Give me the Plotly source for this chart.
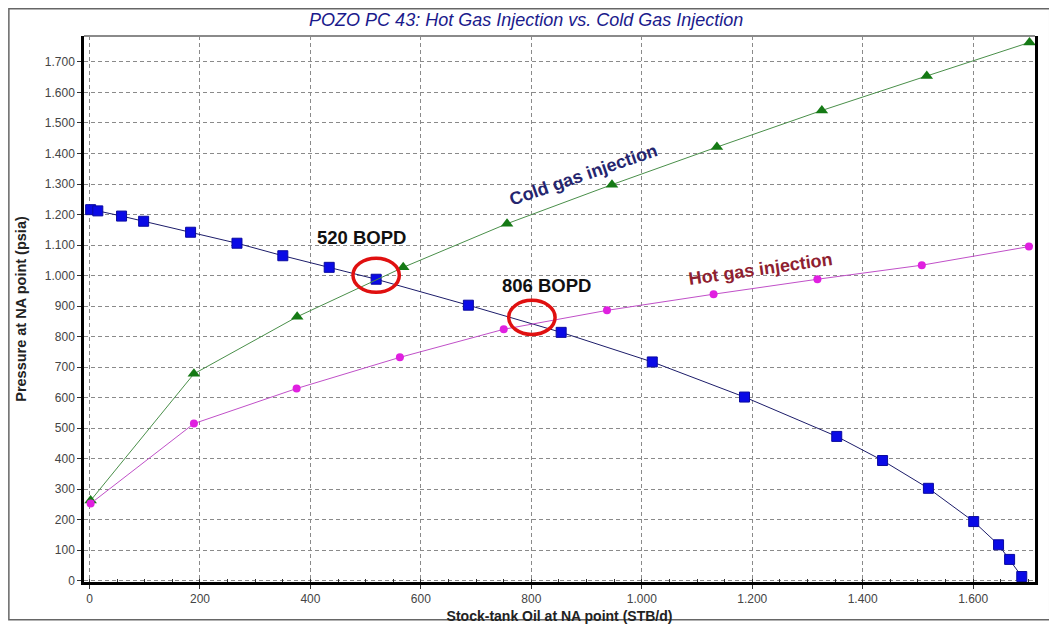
import plotly.graph_objects as go

# Production curve (blue squares)
prod_x = [2, 15, 58, 98, 183, 267, 350, 434, 519, 686, 854, 1019, 1186, 1353, 1436, 1519, 1601, 1646, 1666, 1688]
prod_y = [1216, 1212, 1195, 1178, 1142, 1106, 1065, 1027, 988, 903, 814, 717, 602, 473, 394, 303, 194, 118, 70, 14]

# Cold gas injection (green triangles)
cold_x = [2, 189, 376, 568, 756, 946, 1136, 1326, 1516, 1702]
cold_y = [263, 678, 865, 1027, 1170, 1298, 1421, 1541, 1654, 1764]

# Hot gas injection (magenta circles)
hot_x = [2, 189, 375, 562, 750, 937, 1130, 1318, 1507, 1701]
hot_y = [253, 515, 630, 732, 824, 886, 939, 988, 1034, 1095]

# Operating points (circled) and their labels
op_x = [519, 801]
op_y = [1001, 863]
op_labels = ["520 BOPD", "806 BOPD"]
op_label_x = [493, 827]
op_label_y = [1126, 968]

x_ticks = [0, 200, 400, 600, 800, 1000, 1200, 1400, 1600]
y_ticks = list(range(0, 1800, 100))

TICK_FONT = dict(family="Liberation Sans, Arial", size=12, color="#444444")
X_TITLE_FONT = dict(family="Liberation Sans Narrow, Arial Narrow, Liberation Sans, Arial", size=14, color="#222222")
Y_TITLE_FONT = dict(family="Liberation Sans, Arial", size=14.5, color="#222222")

fig = go.Figure()

fig.add_trace(go.Scatter(
    x=prod_x, y=prod_y, mode="lines+markers", name="Production",
    line=dict(color="#1c1c6a", width=1),
    marker=dict(symbol="square", size=10, color="#0a0ae6", line=dict(color="#0a0aa0", width=1)),
))
fig.add_trace(go.Scatter(
    x=cold_x, y=cold_y, mode="lines+markers", name="Cold gas injection",
    line=dict(color="#4a8f4a", width=1),
    marker=dict(symbol="triangle-up", size=11, color="#157a15"),
))
fig.add_trace(go.Scatter(
    x=hot_x, y=hot_y, mode="lines+markers", name="Hot gas injection",
    line=dict(color="#c050c8", width=1),
    marker=dict(symbol="circle", size=8, color="#e020e0"),
))

# red circles around operating points
rx, ry = 42, 56
for cx, cy in zip(op_x, op_y):
    fig.add_shape(type="circle", xref="x", yref="y",
                  x0=cx - rx, x1=cx + rx, y0=cy - ry, y1=cy + ry,
                  line=dict(color="#e01010", width=3.5))

for lx, ly, txt in zip(op_label_x, op_label_y, op_labels):
    fig.add_annotation(x=lx, y=ly, text="<b>" + txt + "</b>", showarrow=False,
                       font=dict(family="Liberation Sans, Arial", size=18.5, color="#111111"))

fig.add_annotation(x=894, y=1329, text="<b>Cold gas injection</b>", showarrow=False, textangle=-19,
                   font=dict(family="Liberation Sans, Arial", size=18, color="#25256e"))
fig.add_annotation(x=1215, y=1021, text="<b>Hot gas injection</b>", showarrow=False, textangle=-8,
                   font=dict(family="Liberation Sans, Arial", size=18, color="#8e2030"))

# top edge of plot area (gray) and outer frame
fig.add_shape(type="line", xref="x domain", yref="y domain", x0=0, x1=1, y0=1, y1=1,
              line=dict(color="#8a8a8a", width=2))
fig.add_shape(type="rect", xref="paper", yref="paper", x0=-0.079, x1=1.0155, y0=-0.069, y1=1.05,
              line=dict(color="#666666", width=1.5))

fig.update_layout(
    width=1049, height=616,
    margin=dict(l=76, r=22, t=28, b=42),
    paper_bgcolor="white", plot_bgcolor="white",
    showlegend=False,
    separators=",.",
    title=dict(text="<i>POZO PC 43: Hot Gas Injection vs. Cold Gas Injection</i>",
               x=0.494, xanchor="center", y=0.981, yanchor="middle",
               font=dict(family="Liberation Sans, Arial", size=18, color="#1a1a8c")),
)

fig.update_xaxes(
    range=[-10, 1712], tickvals=x_ticks, separatethousands=True, automargin=False,
    tickfont=TICK_FONT, ticks="outside", ticklen=4, tickcolor="#333333",
    showline=True, linecolor="black", linewidth=2.5, zeroline=False,
    showgrid=True, gridcolor="#8a8a8a", griddash="4px,3px", gridwidth=1,
    minor=dict(dtick=50, ticks="inside", ticklen=3, tickcolor="#333333", showgrid=False),
    title=dict(text="<b>Stock-tank Oil at NA point (STB/d)</b>", font=X_TITLE_FONT),
)
fig.update_yaxes(
    range=[-4, 1785], tickvals=y_ticks, separatethousands=True, automargin=False,
    tickfont=TICK_FONT, ticks="outside", ticklen=4, tickcolor="#333333",
    showline=True, linecolor="black", linewidth=2.5, mirror=True, zeroline=False,
    showgrid=True, gridcolor="#8a8a8a", griddash="4px,3px", gridwidth=1,
    title=dict(text="<b>Pressure at NA point (psia)</b>", font=Y_TITLE_FONT),
)

fig.write_html("out.html")
